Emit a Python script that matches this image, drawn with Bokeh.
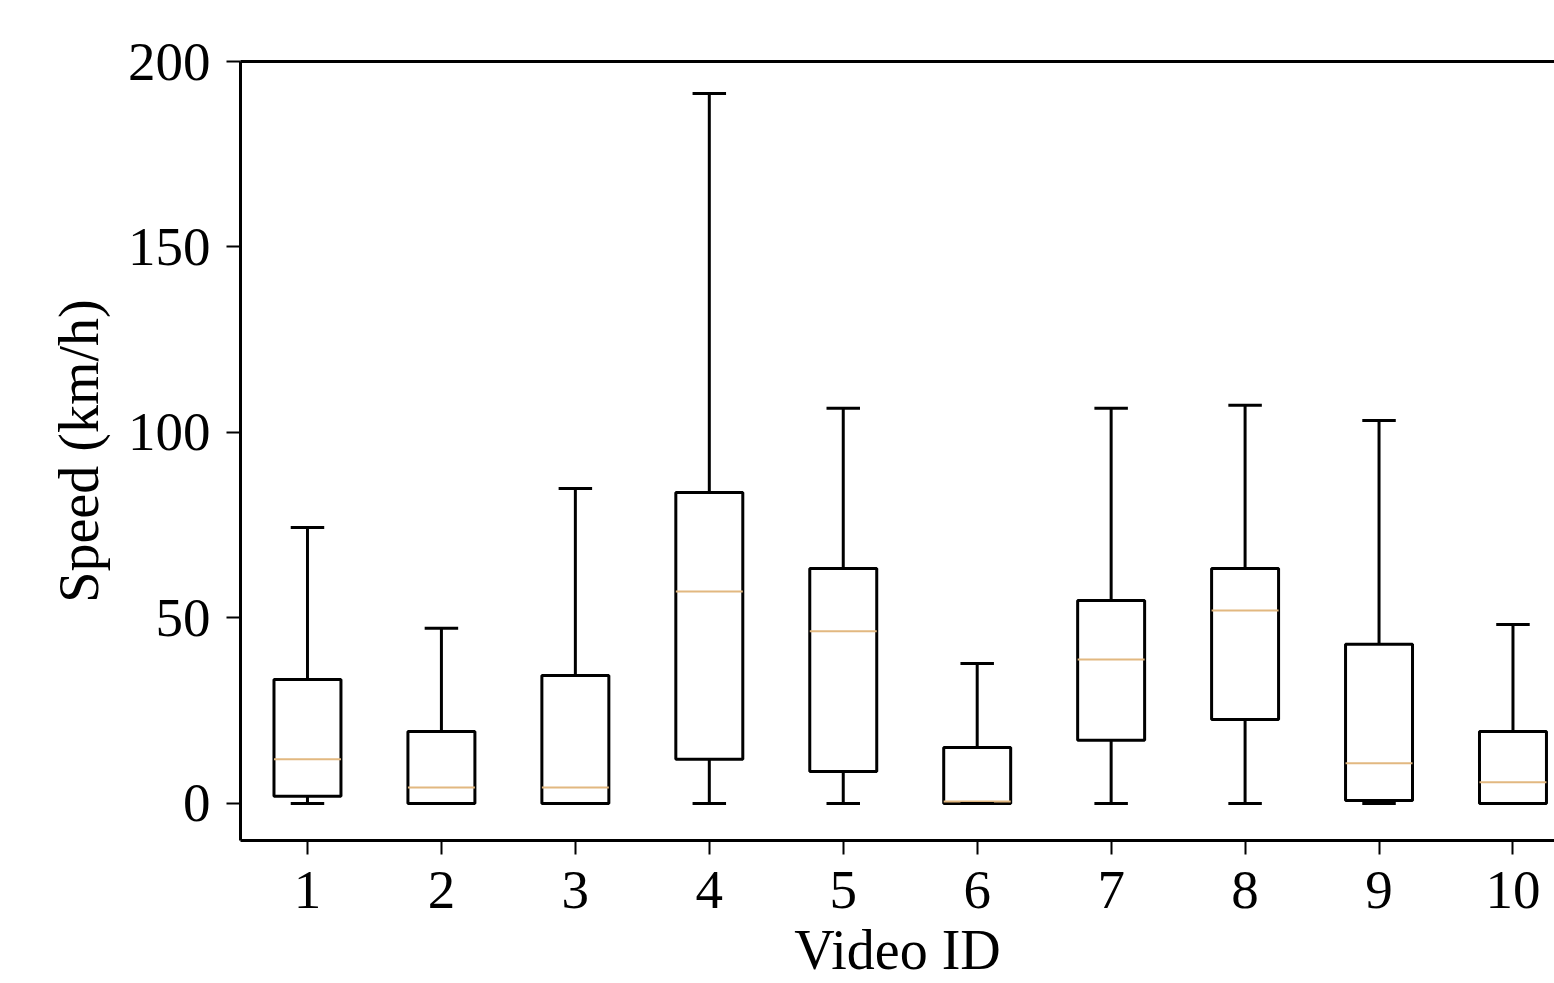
from bokeh.plotting import figure
from bokeh.models import Range1d, FixedTicker, LinearAxis
from bokeh.embed import file_html
from bokeh.resources import INLINE

video_ids = [1, 2, 3, 4, 5, 6, 7, 8, 9, 10]
whisker_low = [0, 0, 0, 0, 0, 0, 0, 0, 0, 0]
q1 = [1.9, 0, 0, 11.9, 8.6, 0, 17.0, 22.6, 0.8, 0]
median = [11.9, 4.3, 4.3, 57.1, 46.4, 0.5, 38.8, 52.0, 10.8, 5.7]
q3 = [33.4, 19.4, 34.5, 83.8, 63.3, 15.1, 54.7, 63.3, 42.9, 19.4]
whisker_high = [74.4, 47.2, 84.9, 191.4, 106.5, 37.7, 106.5, 107.3, 103.2, 48.2]
y_ticks = [0, 50, 100, 150, 200]
x_label = "Video ID"
y_label = "Speed (km/h)"

FONT = "Liberation Serif"
LW = 3

p = figure(width=1554, height=983, output_backend="svg", toolbar_location=None,
           x_range=Range1d(0.5, 10.31), y_range=Range1d(-10, 200))
p.min_border_left = 240
p.min_border_right = 0
p.min_border_top = 61
p.min_border_bottom = 143
p.outline_line_color = None
p.grid.visible = False
p.background_fill_color = "white"
p.border_fill_color = "white"

# whiskers
p.segment(x0=video_ids, y0=q3, x1=video_ids, y1=whisker_high, line_color="black", line_width=LW)
p.segment(x0=video_ids, y0=whisker_low, x1=video_ids, y1=q1, line_color="black", line_width=LW)
# boxes
p.vbar(x=video_ids, width=0.5, bottom=q1, top=q3, fill_color=None, line_color="black", line_width=LW)
# medians
xl = [v - 0.25 for v in video_ids]
xr = [v + 0.25 for v in video_ids]
p.segment(x0=xl, y0=median, x1=xr, y1=median, line_color="#e2b880", line_width=2)
# caps
cl = [v - 0.125 for v in video_ids]
cr = [v + 0.125 for v in video_ids]
p.segment(x0=cl, y0=whisker_high, x1=cr, y1=whisker_high, line_color="black", line_width=LW)
p.segment(x0=cl, y0=whisker_low, x1=cr, y1=whisker_low, line_color="black", line_width=LW)

for ax in (p.xaxis[0], p.yaxis[0]):
    ax.axis_line_width = LW
    ax.axis_line_color = "black"
    ax.major_tick_line_width = 2
    ax.major_tick_line_color = "black"
    ax.major_tick_out = 14
    ax.major_tick_in = 0
    ax.minor_tick_line_color = None
    ax.major_label_text_font = FONT
    ax.major_label_text_font_size = "55px"
    ax.major_label_text_color = "black"
    ax.axis_label_text_font = FONT
    ax.axis_label_text_font_size = "56px"
    ax.axis_label_text_font_style = "normal"
    ax.axis_label_text_color = "black"

p.xaxis.ticker = FixedTicker(ticks=video_ids)
p.yaxis.ticker = FixedTicker(ticks=y_ticks)
p.xaxis.axis_label = x_label
p.yaxis.axis_label = y_label
p.xaxis.major_label_standoff = 17
p.xaxis.axis_label_standoff = 8
p.yaxis.major_label_standoff = 16
p.yaxis.axis_label_standoff = 15

top_axis = LinearAxis(ticker=FixedTicker(ticks=[]), axis_line_width=LW, axis_line_color="black",
                      major_tick_line_color=None, minor_tick_line_color=None,
                      major_label_text_font_size="0px")
p.add_layout(top_axis, "above")

open("out.html", "w").write(file_html(p, INLINE))
